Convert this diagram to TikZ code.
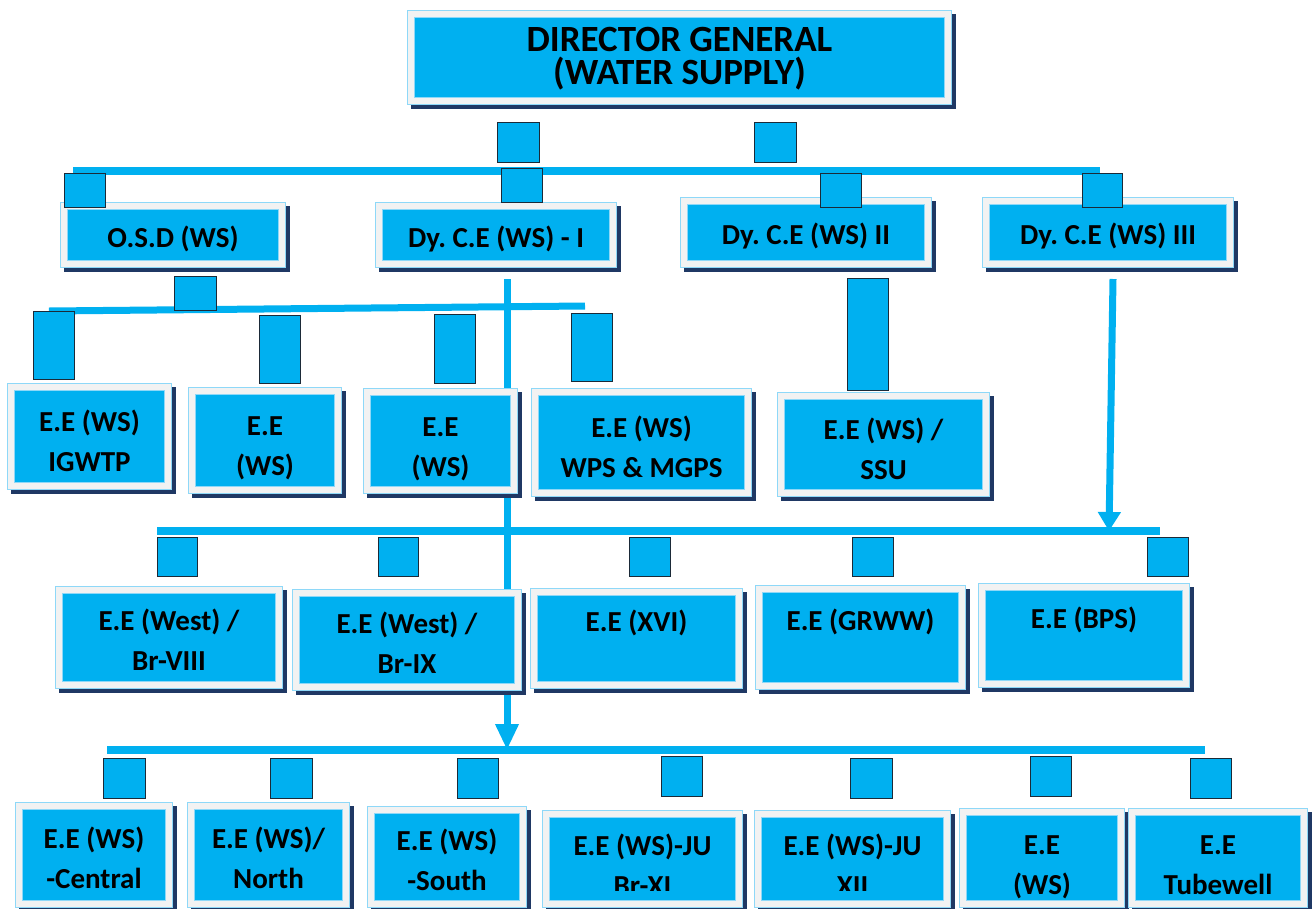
\documentclass[tikz,border=0pt]{standalone}
\usepackage{fontspec}
\setmainfont{Carlito}
\usetikzlibrary{arrows.meta}
\frenchspacing
\definecolor{cyanb}{HTML}{00B0F0}
\definecolor{fgray}{HTML}{F2F2F2}
\definecolor{lblue}{HTML}{8ED8F8}
\definecolor{navyc}{HTML}{1F3864}
\definecolor{sqline}{HTML}{1B2A38}
\tikzset{
  box/.style={fill=cyanb, draw=lblue, line width=0.6pt, double=fgray, double distance=6.4pt,
    inner sep=0pt, text=black, font=\bfseries\fontsize{29}{40}\selectfont},
  boxtext/.style={inner sep=0pt, text=black, font=\bfseries\fontsize{29}{40}\selectfont},
  dgfont/.style={font=\bfseries\fontsize{37}{33}\selectfont},
  tdn/.style={text height=#1, text depth=0pt},
  tup/.style={text height=0pt, text depth=#1},
  sq/.style={fill=cyanb, draw=sqline, line width=1pt, inner sep=0pt},
  bar/.style={draw=cyanb, line width=8pt},
  vline/.style={draw=cyanb, line width=7pt},
  shad/.style={fill=navyc}
}
\newcommand{\btext}[1]{\smash{\vtop{\lineskiplimit=-1000pt\lineskip=0pt\let\\\cr\halign{\hfil##\hfil\cr#1\crcr}}}}
\newcommand{\obox}[7][]{%
  \fill[shad] ({#3+4},{#4+4}) rectangle ({#5+4},{#6+4});
  \pgfmathsetmacro{\bw}{#5-#3-7.6}\pgfmathsetmacro{\bh}{#6-#4-7.6}%
  \node[box, minimum width=\bw pt, minimum height=\bh pt, #1] (#2) at ({(#3+#5)/2},{(#4+#6)/2}) {\btext{#7}};
}
\newcommand{\sqr}[5]{%
  \pgfmathsetmacro{\bw}{#4-#2}\pgfmathsetmacro{\bh}{#5-#3}%
  \node[sq, minimum width=\bw pt, minimum height=\bh pt] (#1) at ({(#2+#4)/2},{(#3+#5)/2}) {};
}
\begin{document}
\begin{tikzpicture}[x=1pt,y=-1pt]
\useasboundingbox[fill=white] (0,0) rectangle (1312,908);
% connector coordinates
\coordinate (b1l) at (73,171);  \coordinate (b1r) at (1100,171);
\coordinate (b2l) at (49,311);  \coordinate (b2r) at (585,306);
\coordinate (b3l) at (157,531); \coordinate (b3r) at (1160,531);
\coordinate (b4l) at (107,750); \coordinate (b4r) at (1205,750);
\coordinate (v1t) at (507,279); \coordinate (v1b) at (507,750);
\coordinate (v3t) at (1113,279); \coordinate (v3b) at (1109,531);
% connectors
\draw[bar] (b1l) -- (b1r);
\draw[vline] (b2l) -- (b2r);
\draw[bar] (b3l) -- (b3r);
\draw[bar] (b4l) -- (b4r);
\draw[vline, -{Triangle[length=26pt,width=22pt]}] (v1t) -- (v1b);
\draw[vline, -{Triangle[length=19pt,width=22pt]}] (v3t) -- (v3b);
% top
\obox[dgfont, tup=12pt]{dg}{407}{10}{952}{105}{DIRECTOR GENERAL\\(WATER SUPPLY)}
% row 2
\obox[tdn=24pt]{osd}{60}{202}{286}{268}{O.S.D (WS)}
\obox[tdn=24pt]{dce1}{375}{202}{617}{268}{Dy. C.E (WS) - I}
\obox[tdn=24pt]{dce2}{680}{197}{932}{268}{Dy. C.E (WS) II}
\obox[tdn=24pt]{dce3}{982}{197}{1234}{268}{Dy. C.E (WS) III}
% row 3
\obox[tup=10pt]{r3a}{7}{383}{172}{490}{E.E (WS)\\IGWTP}
\obox[tup=10pt]{r3b}{188}{387}{342}{494}{E.E\\(WS)}
\obox[tup=10pt]{r3c}{363}{388}{518}{494}{E.E\\(WS)}
\obox[tup=10pt]{r3d}{531}{388}{752}{497}{E.E (WS)\\WPS \& MGPS}
\obox[tup=10pt]{r3e}{777}{392}{990}{497}{E.E (WS) /\\SSU}
% row 4
\obox[tup=14pt]{r4a}{55}{586}{283}{689}{E.E (West) /\\Br-VIII}
\obox[tup=14pt]{r4b}{292}{589}{522}{691}{E.E (West) /\\Br-IX}
\obox[tup=14pt]{r4c}{530}{588}{743}{689}{E.E (XVI)}
\obox[tup=14pt]{r4d}{755}{585}{966}{690}{E.E (GRWW)}
\obox[tup=14pt]{r4e}{978}{583}{1190}{688}{E.E (BPS)}
% row 5
\obox[tup=14pt]{r5a}{15}{802}{173}{908}{E.E (WS)\\-Central}
\obox[tup=14pt]{r5b}{187}{802}{350}{908}{E.E (WS)/\\North}
\obox[tup=14pt]{r5c}{367}{806}{527}{908}{E.E (WS)\\-South}
\obox{r5d}{542}{810}{743}{908}{}
\obox{r5e}{754}{810}{951}{908}{}
\obox[tup=7pt]{r5f}{959}{808}{1125}{908}{E.E\\(WS)}
\obox[tup=7pt]{r5g}{1128}{808}{1308}{908}{E.E\\Tubewell}
\begin{scope}
\clip (542,810) rectangle (951,890);
\node[boxtext, tup=7pt] (t5d) at (r5d.center) {\btext{E.E (WS)-JU\\Br-XI}};
\node[boxtext, tup=7pt] (t5e) at (r5e.center) {\btext{E.E (WS)-JU\\XII}};
\end{scope}
% squares
\sqr{q1}{497}{122}{539}{162}
\sqr{q2}{754}{122}{796}{162}
\sqr{q3}{64}{173}{105}{207}
\sqr{q4}{501}{168}{542}{202}
\sqr{q5}{820}{173}{861}{207}
\sqr{q6}{1082}{173}{1122}{207}
\sqr{q7}{174}{276}{216}{310}
\sqr{q8}{33}{311}{74}{379}
\sqr{q9}{259}{315}{300}{383}
\sqr{q10}{434}{314}{475}{383}
\sqr{q11}{571}{313}{612}{381}
\sqr{q12}{847}{278}{888}{390}
\sqr{q13}{157}{537}{197}{576}
\sqr{q14}{378}{537}{418}{576}
\sqr{q15}{629}{537}{670}{576}
\sqr{q16}{852}{537}{893}{576}
\sqr{q17}{1147}{537}{1188}{576}
\sqr{q18}{103}{758}{145}{798}
\sqr{q19}{270}{758}{312}{798}
\sqr{q20}{457}{758}{498}{798}
\sqr{q21}{661}{756}{702}{796}
\sqr{q22}{850}{758}{892}{798}
\sqr{q23}{1030}{756}{1071}{796}
\sqr{q24}{1190}{758}{1231}{798}
\end{tikzpicture}
\end{document}
